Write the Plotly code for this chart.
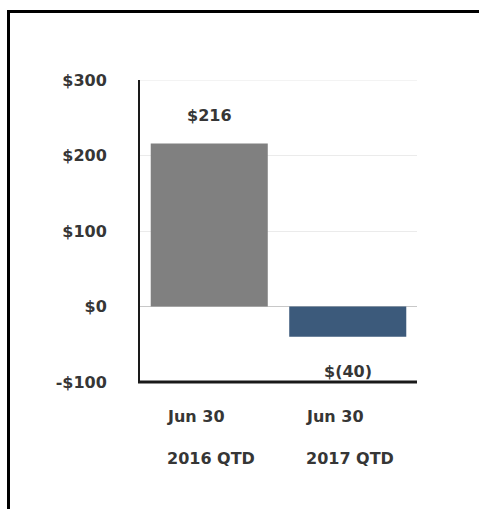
import plotly.graph_objects as go

# Quarterly results, in $ (thousands)
periods = ["Jun 30 2016 QTD", "Jun 30 2017 QTD"]
period_line1 = ["Jun 30", "Jun 30"]
period_line2 = ["2016 QTD", "2017 QTD"]
values = [216, -40]
value_labels = ["$216", "$(40)"]
bar_colors = ["#808080", "#3c5a7b"]

tick_vals = [-100, 0, 100, 200, 300]
tick_text = ["-$100", "$0", "$100", "$200", "$300"]

FONT = "DejaVu Sans"
TEXT = "#363636"
FSIZE = 16

fig = go.Figure(
    go.Bar(
        x=periods,
        y=values,
        marker=dict(color=bar_colors, line=dict(width=0)),
        width=0.845,
        hoverinfo="skip",
    )
)

W, H = 479, 509
L, R, T, B = 140, 62, 80, 127
pw, ph = W - L - R, H - T - B


def px_to_paper_x(px):
    return (px - L) / pw


def px_to_paper_y(py):
    return 1 - (py - T) / ph


label_font = dict(family=FONT, size=FSIZE, color=TEXT, weight="bold")

annotations = []
for cat, v, lab in zip(periods, values, value_labels):
    annotations.append(dict(
        x=cat, y=v, xref="x", yref="y", text=lab, showarrow=False,
        yshift=28 if v >= 0 else -35,
        font=label_font,
    ))
for cat, l1, l2 in zip(periods, period_line1, period_line2):
    for txt, py in ((l1, 416), (l2, 458)):
        annotations.append(dict(
            x=cat, y=px_to_paper_y(py), xref="x", yref="paper", text=txt,
            showarrow=False, xanchor="left", yanchor="middle", xshift=-44,
            font=label_font,
        ))

shapes = [
    # frame lines along the top and left edge of the page
    dict(type="line", xref="paper", yref="paper",
         x0=px_to_paper_x(8.5), x1=px_to_paper_x(490),
         y0=px_to_paper_y(11.5), y1=px_to_paper_y(11.5),
         line=dict(color="black", width=3)),
    dict(type="line", xref="paper", yref="paper",
         x0=px_to_paper_x(8.5), x1=px_to_paper_x(8.5),
         y0=px_to_paper_y(10), y1=px_to_paper_y(520),
         line=dict(color="black", width=3)),
    # top gridline at the upper edge of the range
    dict(type="line", xref="paper", yref="y", x0=0, x1=1,
         y0=tick_vals[-1], y1=tick_vals[-1],
         line=dict(color="#e8e8e8", width=1), layer="below"),
    # baseline at the bottom of the plot
    dict(type="line", xref="paper", yref="paper",
         x0=px_to_paper_x(138), x1=1,
         y0=0, y1=0, line=dict(color="#1a1a1a", width=3)),
]

fig.update_layout(
    width=W, height=H,
    margin=dict(l=L, r=R, t=T, b=B, pad=0),
    paper_bgcolor="white", plot_bgcolor="white",
    showlegend=False,
    annotations=annotations,
    shapes=shapes,
    xaxis=dict(showticklabels=False, showgrid=False, showline=False,
               zeroline=False, ticks="", fixedrange=True),
    yaxis=dict(range=[tick_vals[0], tick_vals[-1]], tickvals=tick_vals,
               ticktext=tick_text,
               showgrid=True, gridcolor="#ebebeb", gridwidth=1,
               zeroline=True, zerolinecolor="#c8c8c8", zerolinewidth=1,
               showline=True, linecolor="#1a1a1a", linewidth=2,
               ticks="", ticklabelstandoff=28,
               tickfont=label_font,
               fixedrange=True),
)

fig.write_html("out.html")
